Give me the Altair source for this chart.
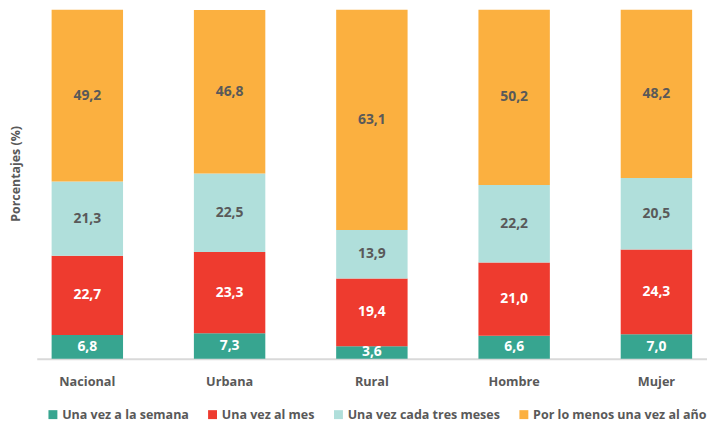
import altair as alt
import pandas as pd

categories = ["Nacional", "Urbana", "Rural", "Hombre", "Mujer"]
series = ["Una vez a la semana", "Una vez al mes", "Una vez cada tres meses", "Por lo menos una vez al año"]
semana = [6.8, 7.3, 3.6, 6.6, 7.0]
mes = [22.7, 23.3, 19.4, 21.0, 24.3]
tres_meses = [21.3, 22.5, 13.9, 22.2, 20.5]
anio = [49.2, 46.8, 63.1, 50.2, 48.2]

colors = ["#37a590", "#ee3b2f", "#b0dfdb", "#fbb040"]
FONT = "Open Sans"
GRAY = "#595959"

rows = []
for si, (s, vals) in enumerate(zip(series, [semana, mes, tres_meses, anio])):
    for c, v in zip(categories, vals):
        rows.append({"cat": c, "serie": s, "orden": si, "valor": v,
                     "etiqueta": f"{v:.1f}".replace(".", ",")})
df = pd.DataFrame(rows)

base = alt.Chart(df).transform_stack(
    stack="valor", groupby=["cat"], sort=[alt.SortField("orden", order="ascending")], as_=["y0", "y1"]
).transform_calculate(mid="(datum.y0 + datum.y1) / 2")

xenc = alt.X("cat:N", sort=categories,
             scale=alt.Scale(paddingInner=0.498, paddingOuter=0.1045),
             axis=alt.Axis(title=None, domainColor="#d9d9d9", domainWidth=2, ticks=False,
                           labelFont=FONT, labelFontSize=12.8, labelFontWeight="bold",
                           labelColor=GRAY, labelPadding=17, labelAngle=0))

bars = base.mark_bar().encode(
    x=xenc,
    y=alt.Y("y0:Q", scale=alt.Scale(domain=[0, 100], nice=False),
            axis=alt.Axis(title="Porcentajes (%)", labels=False, ticks=False, domain=False, grid=False,
                          titleFont=FONT, titleFontSize=12.5, titleFontWeight="bold", titleColor=GRAY,
                          titleAngle=270, titleX=-21, titleY=165, titleBaseline="middle", titleAlign="center")),
    y2="y1:Q",
    color=alt.Color("serie:N", scale=alt.Scale(domain=series, range=colors),
                    legend=alt.Legend(title=None, orient="none", legendX=10, legendY=402,
                                      direction="horizontal", columns=4, symbolType="square",
                                      symbolSize=81, symbolStrokeWidth=0, columnPadding=17,
                                      labelOffset=3, labelLimit=400, labelFont=FONT, labelFontSize=12.6,
                                      labelFontWeight="bold", labelColor=GRAY)),
    order=alt.Order("orden:Q"),
)

text = base.mark_text(font=FONT, fontSize=14, fontWeight="bold", baseline="middle").encode(
    x=alt.X("cat:N", sort=categories),
    y=alt.Y("mid:Q"),
    text="etiqueta:N",
    color=alt.condition(alt.datum.orden < 2, alt.value("#ffffff"), alt.value(GRAY)),
)

chart = alt.layer(bars, text).properties(
    width=676, height=352,
    autosize=alt.AutoSizeParams(type="none"),
    padding={"left": 29, "top": 0, "right": 0, "bottom": 62},
).configure_view(stroke=None)

chart.save("out.html", embed_options={"renderer": "svg", "actions": False})
